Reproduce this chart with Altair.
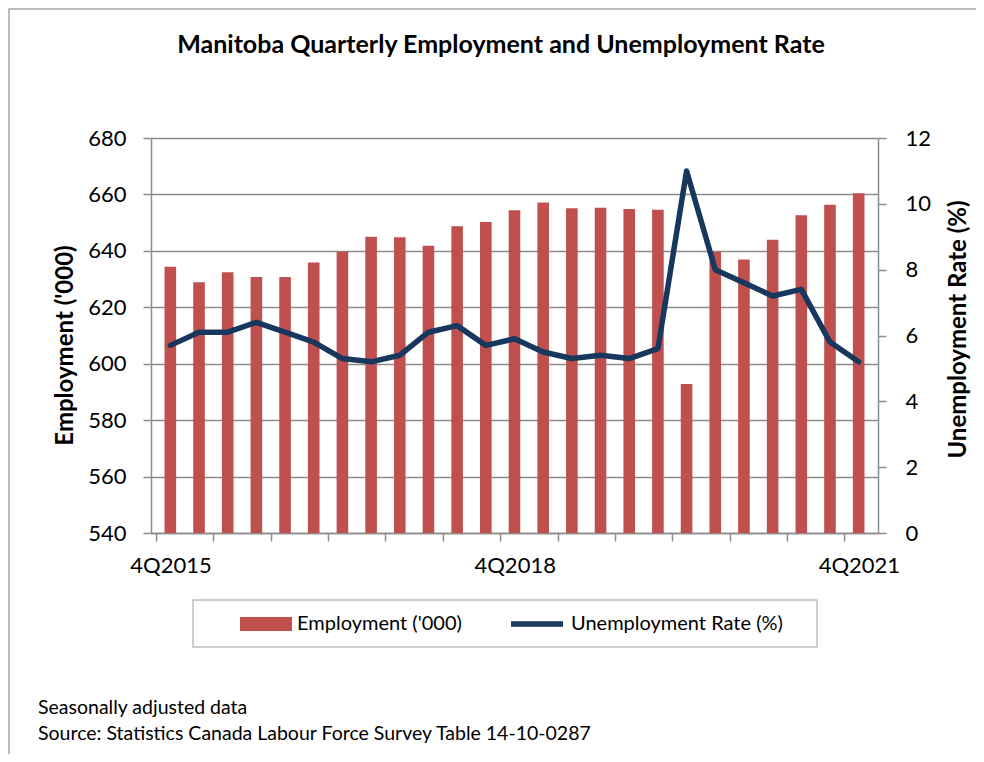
import altair as alt
import pandas as pd

quarters = ["4Q2015", "1Q2016", "2Q2016", "3Q2016", "4Q2016", "1Q2017", "2Q2017",
            "3Q2017", "4Q2017", "1Q2018", "2Q2018", "3Q2018", "4Q2018", "1Q2019",
            "2Q2019", "3Q2019", "4Q2019", "1Q2020", "2Q2020", "3Q2020", "4Q2020",
            "1Q2021", "2Q2021", "3Q2021", "4Q2021"]
employment = [634.4, 628.9, 632.4, 630.7, 630.7, 635.9, 639.8, 645.0, 644.8, 641.8,
              648.7, 650.2, 654.4, 657.1, 655.1, 655.3, 654.8, 654.6, 592.8, 639.7,
              636.9, 643.9, 652.6, 656.3, 660.4]
unemployment = [5.7, 6.1, 6.1, 6.4, 6.1, 5.8, 5.3, 5.2, 5.4, 6.1, 6.3, 5.7, 5.9,
                5.5, 5.3, 5.4, 5.3, 5.6, 11.0, 8.0, 7.6, 7.2, 7.4, 5.8, 5.2]
shown_labels = ["4Q2015", "4Q2018", "4Q2021"]
emp_ticks = [540, 560, 580, 600, 620, 640, 660, 680]
rate_ticks = [0, 2, 4, 6, 8, 10, 12]
series_names = ["Employment ('000)", "Unemployment Rate (%)"]
title_text = "Manitoba Quarterly Employment and Unemployment Rate"
footnotes = ["Seasonally adjusted data",
             "Source: Statistics Canada Labour Force Survey Table 14-10-0287"]

BAR_RED = "#C0504D"
NAVY = "#17375E"
GRID = "#8C8C8C"
FONT = "Lato"

df = pd.DataFrame({
    "idx": list(range(len(quarters))),
    "quarter": quarters,
    "employment": employment,
    "rate": unemployment,
    "emp_name": [series_names[0]] * len(quarters),
    "rate_name": [series_names[1]] * len(quarters),
})

W, H = 727, 395
n = len(quarters)
step = W / n

boundaries = [i - 0.5 for i in range(n + 1)]
label_expr = " : ".join(
    f"datum.value == {quarters.index(q) - 0.5} ? '{q}'" for q in shown_labels
) + " : ''"

x_enc = alt.X(
    "idx:Q",
    scale=alt.Scale(domain=[-0.5, n - 0.5], nice=False, zero=False),
    axis=alt.Axis(
        values=boundaries, labelExpr=label_expr, labelOffset=step / 2,
        title=None, grid=False, tickSize=8, tickColor=GRID, tickWidth=1.5,
        domainColor=GRID, domainWidth=1.5, labelFont=FONT, labelFontSize=22,
        labelColor="#000000", labelPadding=14, labelOverlap=False, labelFlush=False,
        labelBaseline="top",
    ),
)

legend_common = dict(
    orient="none", direction="horizontal", title=None, labelFont=FONT,
    labelFontSize=20, labelColor="#000000", labelOffset=5, symbolSize=2704,
    padding=0, labelLimit=400, symbolOpacity=1,
)

bars = alt.Chart(df).mark_bar(size=11.6, clip=True).encode(
    x=x_enc,
    y=alt.Y(
        "employment:Q",
        scale=alt.Scale(domain=[540, 680], nice=False, zero=False),
        axis=alt.Axis(
            values=emp_ticks, title="Employment ('000)", titleFont=FONT,
            titleFontSize=24, titleFontWeight="bold", titleColor="#000000",
            titleAngle=270, titleBaseline="middle", titleX=-86, titleY=207,
            titleAlign="center",
            grid=True, gridColor=GRID, gridWidth=1.5, tickSize=8, tickColor=GRID,
            tickWidth=1.5, domainColor=GRID, domainWidth=1.5, labelFont=FONT,
            labelFontSize=22, labelColor="#000000", labelPadding=17,
        ),
    ),
    fill=alt.Fill(
        "emp_name:N",
        scale=alt.Scale(domain=[series_names[0]], range=[BAR_RED]),
        legend=alt.Legend(legendX=89, legendY=460,
                          symbolType="M-1,-0.27H1V0.27H-1Z",
                          symbolStrokeWidth=0, **legend_common),
    ),
)

line = alt.Chart(df).mark_line(strokeWidth=5.5, strokeCap="round", strokeJoin="round").encode(
    x=alt.X("idx:Q"),
    y=alt.Y(
        "rate:Q",
        scale=alt.Scale(domain=[0, 12], nice=False, zero=True),
        axis=alt.Axis(
            orient="right", values=rate_ticks, title="Unemployment Rate (%)",
            titleFont=FONT, titleFontSize=24, titleFontWeight="bold",
            titleColor="#000000", titleAngle=270, titleBaseline="middle",
            titleX=80, titleY=191, titleAlign="center",
            grid=False, tickSize=8, tickColor=GRID, tickWidth=1.5,
            domainColor=GRID, domainWidth=1.5, labelFont=FONT, labelFontSize=22,
            labelColor="#000000", labelPadding=19,
        ),
    ),
    stroke=alt.Stroke(
        "rate_name:N",
        scale=alt.Scale(domain=[series_names[1]], range=[NAVY]),
        legend=alt.Legend(legendX=357, legendY=457, symbolType="stroke",
                          symbolStrokeWidth=5.5, **legend_common),
    ),
)

one = alt.Data(values=[{"k": 0}])

legend_box = alt.Chart(one).mark_rect(
    fillOpacity=0, stroke="#BFBFBF", strokeWidth=1.5
).encode(x=alt.value(42), x2=alt.value(666), y=alt.value(462), y2=alt.value(509))

outer_box = alt.Chart(one).mark_rect(
    fillOpacity=0, stroke="#A6A6A6", strokeWidth=1.5
).encode(x=alt.value(-142), x2=alt.value(900), y=alt.value(-129), y2=alt.value(700))

title = alt.Chart(one).mark_text(
    align="center", baseline="alphabetic", font=FONT, fontSize=25,
    fontWeight="bold", color="#000000",
).encode(x=alt.value(350), y=alt.value(-85), text=alt.value(title_text))

notes = alt.Chart(one).mark_text(
    align="left", baseline="alphabetic", font=FONT, fontSize=19.5,
    color="#000000", lineHeight=26,
).encode(x=alt.value(-113), y=alt.value(576), text=alt.value(footnotes))

chart = alt.layer(outer_box, legend_box, bars, line, title, notes).resolve_scale(
    y="independent"
).properties(
    width=W, height=H,
    autosize=alt.AutoSizeParams(type="none"),
    padding={"left": 143, "top": 130, "right": 98, "bottom": 221},
).configure_view(stroke=None).configure(background="white")

chart.save("out.html", embed_options={"renderer": "svg", "actions": False})
